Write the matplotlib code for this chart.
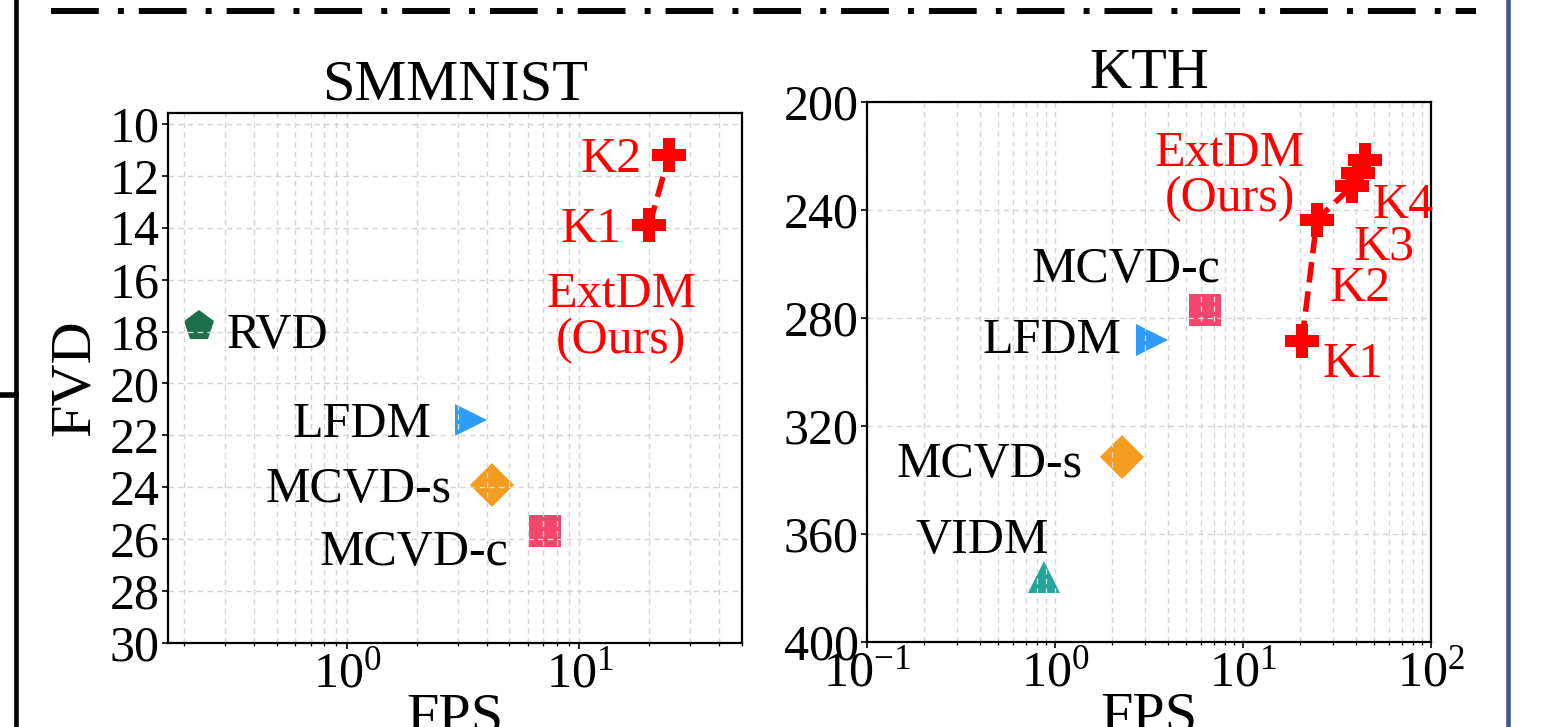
import matplotlib
matplotlib.use('Agg')
import matplotlib.pyplot as plt
from matplotlib.lines import Line2D
from matplotlib.ticker import NullFormatter

plt.rcParams['font.family'] = ['Liberation Serif', 'DejaVu Serif']
plt.rcParams['mathtext.fontset'] = 'custom'
plt.rcParams['mathtext.rm'] = 'Liberation Serif'
plt.rcParams['mathtext.it'] = 'Liberation Serif:italic'
plt.rcParams['mathtext.bf'] = 'Liberation Serif:bold'

# ---------------- data ----------------
smm_methods = ['RVD', 'LFDM', 'MCVD-s', 'MCVD-c']
smm_fps = [0.232, 3.4, 4.2, 7.1]
smm_fvd = [17.8, 21.4, 23.9, 25.7]
smm_ext_labels = ['K1', 'K2']
smm_ext_fps = [20.0, 24.3]
smm_ext_fvd = [13.9, 11.2]

kth_methods = ['MCVD-c', 'LFDM', 'MCVD-s', 'VIDM']
kth_fps = [6.3, 3.3, 2.27, 0.87]
kth_fvd = [277, 288, 331.5, 376]
kth_ext_labels = ['K1', 'K2', 'K3', 'K4', '']
kth_ext_fps = [20.6, 24.7, 38.0, 40.9, 44.6]
kth_ext_fvd = [288.5, 243.7, 231.1, 226.3, 221.3]

smm_yticks = list(range(10, 31, 2))
kth_yticks = list(range(200, 401, 40))

# ---------------- styles ----------------
style = {
    'RVD':    dict(marker='p', color='#1E6E4C', ms=23),
    'LFDM':   dict(marker='>', color='#2E9CF6', ms=23),
    'MCVD-s': dict(marker='D', color='#F39C1F', ms=22),
    'MCVD-c': dict(marker='s', color='#F4466C', ms=23),
    'VIDM':   dict(marker='^', color='#23A69A', ms=23),
}
EXT_COLOR = '#FF0000'
FS_TICK = 36
FS_ANN = 36
FS_TITLE = 42
FS_LABEL = 42

# annotation placements (data coords): text, x, y, ha
smm_ann = [
    ('RVD', 0.305, 18.63, 'left', 'black'),
    ('LFDM', 2.32, 22.06, 'right', 'black'),
    ('MCVD-s', 2.82, 24.57, 'right', 'black'),
    ('MCVD-c', 4.96, 27.0, 'right', 'black'),
    ('K1', 15.15, 14.55, 'right', EXT_COLOR),
    ('K2', 18.5, 11.85, 'right', EXT_COLOR),
    ('ExtDM', 15.15, 17.05, 'center', EXT_COLOR),
    ('(Ours)', 15.15, 18.82, 'center', EXT_COLOR),
]
kth_ann = [
    ('MCVD-c', 7.55, 266.7, 'right', 'black'),
    ('LFDM', 2.27, 293.0, 'right', 'black'),
    ('MCVD-s', 1.392, 338.9, 'right', 'black'),
    ('VIDM', 0.411, 367.0, 'center', 'black'),
    ('K1', 26.6, 301.9, 'left', EXT_COLOR),
    ('K2', 29.0, 273.7, 'left', EXT_COLOR),
    ('K3', 38.5, 258.5, 'left', EXT_COLOR),
    ('K4', 49.1, 243.0, 'left', EXT_COLOR),
    ('ExtDM', 8.53, 223.7, 'center', EXT_COLOR),
    ('(Ours)', 8.53, 240.6, 'center', EXT_COLOR),
]

W, H = 1547, 727
fig = plt.figure(figsize=(W / 100, H / 100), dpi=100)
ax1 = fig.add_axes([168 / W, 84 / H, 574 / W, 530 / H])
ax2 = fig.add_axes([867 / W, 85 / H, 564 / W, 540 / H])


def setup(ax, xlim, ylim, yticks, title, title_pad):
    ax.set_xscale('log')
    ax.set_xlim(*xlim)
    ax.set_ylim(*ylim)
    ax.set_yticks(yticks)
    ax.xaxis.set_minor_formatter(NullFormatter())
    ax.grid(True, which='both', axis='x', color='#d4d4d4', linestyle=(0, (4, 3)), linewidth=1.0)
    ax.grid(True, which='major', axis='y', color='#d4d4d4', linestyle=(0, (4, 3)), linewidth=1.0)
    for s in ax.spines.values():
        s.set_linewidth(1.6)
        s.set_color('black')
    ax.tick_params(axis='both', which='major', direction='out', length=4, width=1.2,
                   labelsize=FS_TICK, pad=2)
    ax.tick_params(axis='x', which='minor', direction='out', length=2.5, width=0.9)
    ax.tick_params(axis='y', which='minor', left=False)
    ax.set_title(title, fontsize=FS_TITLE, pad=title_pad)
    ax.set_xlabel('FPS', fontsize=FS_LABEL, labelpad=-3.5)


setup(ax1, (0.17, 50), (30, 9.58), smm_yticks, 'SMMNIST', 9.5)
setup(ax2, (0.1, 100), (400, 200), kth_yticks, 'KTH', 10)
ax1.set_ylabel('FVD', fontsize=FS_LABEL, labelpad=6)

for ax, methods, fps, fvd, efps, efvd, ann in [
        (ax1, smm_methods, smm_fps, smm_fvd, smm_ext_fps, smm_ext_fvd, smm_ann),
        (ax2, kth_methods, kth_fps, kth_fvd, kth_ext_fps, kth_ext_fvd, kth_ann)]:
    for m, x, y in zip(methods, fps, fvd):
        st = style[m]
        ax.plot([x], [y], linestyle='none', marker=st['marker'], color=st['color'],
                markersize=st['ms'], markeredgewidth=0, zorder=1)
    ax.plot(efps, efvd, linestyle='--', color=EXT_COLOR, linewidth=4, zorder=3)
    ax.plot(efps, efvd, linestyle='none', marker='P', color=EXT_COLOR,
            markersize=24, markeredgewidth=0, zorder=4)
    for txt, x, y, ha, c in ann:
        ax.text(x, y, txt, ha=ha, va='baseline', color=c, fontsize=FS_ANN, zorder=5)

# ---- surrounding figure decorations (parts of the page the chart was cropped from) ----
def px(x, y):
    return x / W, 1 - y / H

(x0, y0), (x1, y1) = px(51, 11), px(1476, 11)
fig.add_artist(Line2D([x0, x1], [y0, y1], transform=fig.transFigure, color='black',
                      linewidth=4.3, dashes=(8, 3.2, 1, 2.5), solid_capstyle='butt',
                      dash_capstyle='butt'))
(x0, y0), (x1, y1) = px(15.5, 0), px(15.5, H)
fig.add_artist(Line2D([x0, x1], [y0, y1], transform=fig.transFigure, color='black', linewidth=3.3))
(x0, y0), (x1, y1) = px(0, 395), px(15.5, 395)
fig.add_artist(Line2D([x0, x1], [y0, y1], transform=fig.transFigure, color='black', linewidth=4))
(x0, y0), (x1, y1) = px(1508, 0), px(1508, H)
fig.add_artist(Line2D([x0, x1], [y0, y1], transform=fig.transFigure, color='#3C5A9A', linewidth=3.3))

fig.savefig('out.png', dpi=100)
